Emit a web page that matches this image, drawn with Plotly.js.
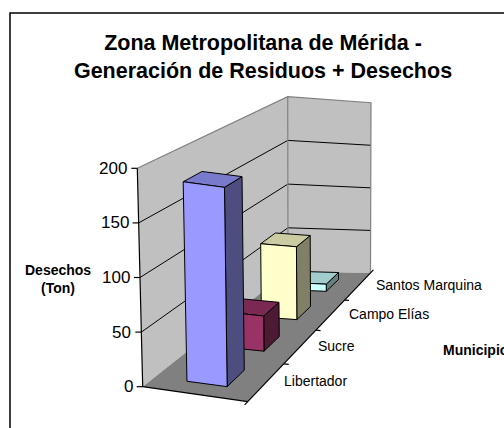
<!DOCTYPE html>
<html><head><meta charset="utf-8">
<script src="https://cdn.plot.ly/plotly-3.0.1.min.js"></script>
<style>html,body{margin:0;padding:0;background:#fff}#chart{width:504px;height:428px}</style>
</head><body><div id="chart"></div>
<script>
// ---- data ----
const categories = ['Libertador', 'Sucre', 'Campo Elías', 'Santos Marquina'];
const values = [186, 35, 77, 8];
const barColors = ['#9999ff', '#993366', '#ffffcc', '#ccffff'];
const zTicks = [0, 50, 100, 150, 200];
const zMax = 200;

// ---- 3D view (layout geometry of the plot box, screen px) ----
const view = {
  front: {ll: [142.7, 386.7], lr: [247.7, 401.7], ul: [137.3, 168.3], ur: [245.5, 183.5]},
  back:  {ll: [288, 271.5],   lr: [370.5, 273],   ul: [287.7, 96.7],  ur: [371, 102.7]},
  depth: [1, 1.25]
};
const BAR_U = [0.31, 0.70];   // bar extent across the width axis
const BAR_DEPTH = 0.45;       // fraction of a category slot

// projection: u (width 0..1), t (depth 0..1), h (height 0..1) -> screen
function proj(u, t, h) {
  let sx = 0, sy = 0, sw = 0;
  for (const iu of [0, 1]) for (const it of [0, 1]) for (const ih of [0, 1]) {
    const face = it ? view.back : view.front;
    const p = face[(ih ? 'u' : 'l') + (iu ? 'r' : 'l')];
    const b = (iu ? u : 1 - u) * (it ? t : 1 - t) * (ih ? h : 1 - h) * view.depth[it];
    sx += b * p[0]; sy += b * p[1]; sw += b;
  }
  return [sx / sw, sy / sw];
}
const catT = i => (i + 0.5) / categories.length;
const valH = v => v / zMax;

function shade(hex, k) {
  const n = parseInt(hex.slice(1), 16);
  const r = Math.round(((n >> 16) & 255) * k), g = Math.round(((n >> 8) & 255) * k), b = Math.round((n & 255) * k);
  return 'rgb(' + r + ',' + g + ',' + b + ')';
}

const traces = [];
function poly(pts, fill, lineColor, lineWidth) {
  const xs = pts.map(p => proj(...p)[0]), ys = pts.map(p => proj(...p)[1]);
  xs.push(xs[0]); ys.push(ys[0]);
  traces.push({type: 'scatter', mode: 'lines', x: xs, y: ys, fill: fill ? 'toself' : 'none',
    fillcolor: fill || 'rgba(0,0,0,0)', line: {color: lineColor || 'rgba(0,0,0,0)', width: lineWidth || 0},
    hoverinfo: 'skip', showlegend: false});
}
function polyline(pts, color, width) {
  traces.push({type: 'scatter', mode: 'lines', x: pts.map(p => proj(...p)[0]), y: pts.map(p => proj(...p)[1]),
    line: {color: color, width: width}, hoverinfo: 'skip', showlegend: false});
}

// walls and floor
poly([[0, 0, 0], [0, 1, 0], [0, 1, 1], [0, 0, 1]], '#c0c0c0');
poly([[0, 1, 0], [1, 1, 0], [1, 1, 1], [0, 1, 1]], '#c0c0c0');
poly([[0, 0, 0], [1, 0, 0], [1, 1, 0], [0, 1, 0]], '#808080');
// gridlines
zTicks.filter(v => v > 0 && v < zMax).forEach(v => {
  polyline([[0, 0, valH(v)], [0, 1, valH(v)], [1, 1, valH(v)]], '#000', 1);
});
// wall borders
polyline([[0, 0, 1], [0, 1, 1], [1, 1, 1], [1, 1, 0]], '#808080', 1.2);
polyline([[0, 1, 0], [0, 1, 1]], '#808080', 1.2);

// bars, back to front
for (let i = categories.length - 1; i >= 0; i--) {
  const tc = catT(i), half = BAR_DEPTH / categories.length / 2;
  const t0 = tc - half, t1 = tc + half, u0 = BAR_U[0], u1 = BAR_U[1], h = valH(values[i]);
  const c = barColors[i];
  poly([[u1, t0, 0], [u1, t1, 0], [u1, t1, h], [u1, t0, h]], shade(c, 0.5), '#000', 1);
  poly([[u0, t0, h], [u1, t0, h], [u1, t1, h], [u0, t1, h]], shade(c, 0.8), '#000', 1);
  poly([[u0, t0, 0], [u1, t0, 0], [u1, t0, h], [u0, t0, h]], c, '#000', 1);
}

// axis lines
polyline([[0, 0, 0], [0, 0, 1]], '#000', 1.2);
polyline([[0, 0, 0], [1, 0, 0]], '#000', 1.2);
polyline([[1, -0.02, 0], [1, 1.03, 0]], '#000', 1.2);

const annotations = [];
// z ticks
zTicks.forEach(v => {
  const p = proj(0, 0, valH(v));
  traces.push({type: 'scatter', mode: 'lines', x: [p[0] - 6, p[0]], y: [p[1], p[1]],
    line: {color: '#000', width: 1.2}, hoverinfo: 'skip', showlegend: false});
  annotations.push({text: String(v), x: p[0], y: p[1], xref: 'x', yref: 'y', xanchor: 'right', yanchor: 'middle',
    xshift: -8, showarrow: false, font: {size: 17, color: '#000'}});
});
// category ticks and labels
for (let k = 1; k < categories.length; k++) {
  const a = proj(1, k / categories.length, 0), b = proj(1.05, k / categories.length, 0);
  traces.push({type: 'scatter', mode: 'lines', x: [a[0], b[0]], y: [a[1], b[1]],
    line: {color: '#000', width: 1.2}, hoverinfo: 'skip', showlegend: false});
}
categories.forEach((c, i) => {
  const p = proj(1, catT(i), 0);
  annotations.push({text: c, x: p[0], y: p[1], xref: 'x', yref: 'y', xanchor: 'left', yanchor: 'middle',
    xshift: 16, yshift: 1, showarrow: false, font: {size: 14, color: '#000'}});
});
annotations.push({text: '<b>Desechos<br>(Ton)</b>', x: 58 / 504, y: 1 - 279 / 428, xref: 'paper', yref: 'paper',
  showarrow: false, font: {size: 14, color: '#000'}, xanchor: 'center', yanchor: 'middle'});
annotations.push({text: '<b>Municipio</b>', x: 441 / 504, y: 1 - 350 / 428, xref: 'paper', yref: 'paper',
  showarrow: false, font: {size: 14, color: '#000'}, xanchor: 'left', yanchor: 'middle'});

const layout = {
  width: 504, height: 428,
  margin: {l: 0, r: 0, t: 0, b: 0},
  paper_bgcolor: '#fff', plot_bgcolor: 'rgba(0,0,0,0)',
  showlegend: false,
  font: {family: 'Liberation Sans, Arial, sans-serif', color: '#000'},
  title: {text: 'Zona Metropolitana de Mérida -<br>Generación de Residuos + Desechos',
    font: {size: 21.5, family: 'Liberation Sans, Arial, sans-serif', color: '#000', weight: 'bold'},
    x: 263 / 504, xanchor: 'center', xref: 'paper', y: 1 - 50 / 428, yanchor: 'top', yref: 'container'},
  xaxis: {range: [0, 504], visible: false, fixedrange: true},
  yaxis: {range: [428, 0], visible: false, fixedrange: true},
  annotations: annotations,
  shapes: [
    {type: 'rect', xref: 'paper', yref: 'paper', x0: 10 / 504, x1: 1.05, y0: -0.05, y1: 1 - 13 / 428,
      line: {color: '#000', width: 1.5}, fillcolor: 'rgba(0,0,0,0)', layer: 'above'}
  ],
  hovermode: false
};
Plotly.newPlot('chart', traces, layout, {displayModeBar: false, staticPlot: true});
</script></body></html>
